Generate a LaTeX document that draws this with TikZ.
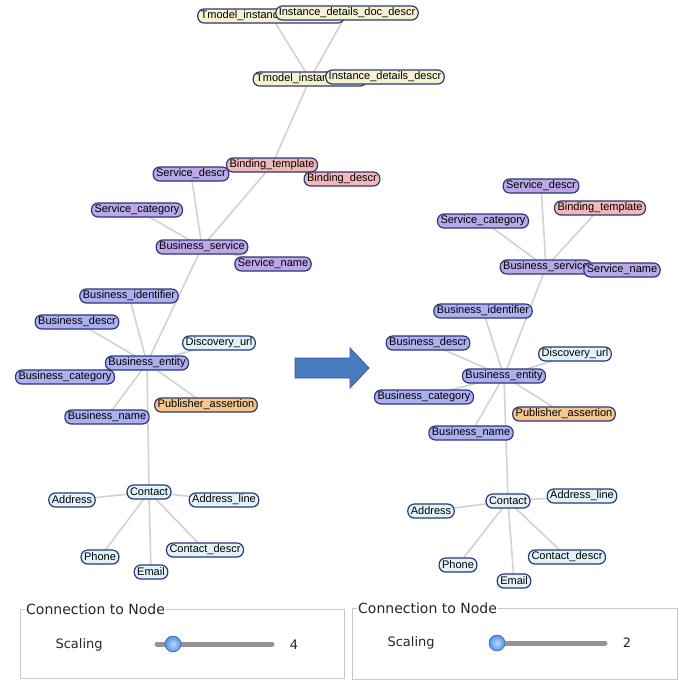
\documentclass[tikz,border=0pt]{standalone}
\usepackage{fontspec}
\setmainfont{Liberation Sans}
\newfontfamily\uifont{DejaVu Sans}
\usepackage{tikz}
\usetikzlibrary{positioning, backgrounds, shapes, calc}
\definecolor{rimblue}{RGB}{45,55,115}
\definecolor{busfill}{RGB}{172,176,240}
\definecolor{servfill}{RGB}{186,168,232}
\definecolor{bindfill}{RGB}{242,184,184}
\definecolor{tmodfill}{RGB}{246,241,208}
\definecolor{contfill}{RGB}{224,243,248}
\definecolor{pubfill}{RGB}{247,198,142}
\definecolor{linkgray}{RGB}{210,210,210}
\definecolor{panelgray}{RGB}{200,200,200}
\definecolor{arrowfill}{RGB}{72,122,192}
\definecolor{arrowrim}{RGB}{52,92,152}
\definecolor{knobblue}{RGB}{80,145,230}
\tikzset{%
  ent/.style      = {draw = rimblue, line width = 1.2pt, rounded corners = 6.5pt,
    inner xsep = 3pt, inner ysep = 1pt, minimum height = 14pt,
    font = \fontsize{11}{11}\selectfont},
  bus/.style      = {ent, fill = busfill}, % Business
  serv/.style     = {ent, fill = servfill}, % Service
  bind/.style     = {ent, fill = bindfill}, % Binding
  tmod/.style     = {ent, fill = tmodfill}, % Tmodel
  cont/.style     = {ent, fill = contfill}, % Contact
  pub/.style      = {ent, fill = pubfill}, % Publisher
  link/.style     = {draw = linkgray, line width = 1.6pt},
  panel/.style    = {draw = panelgray, line width = 0.8pt},
  uitext/.style   = {font = \uifont\fontsize{13}{13}\selectfont, text = black!85},
  track/.style    = {line width = 5pt, line cap = round, draw = black!42},
  knob/.style     = {inner color = knobblue!35!white, outer color = knobblue,
    draw = knobblue!75!black, line width = 0.6pt}
}

\begin{document}
\begin{tikzpicture}[x = 1pt, y = -1pt]
\useasboundingbox (0,0) rectangle (682,681);
%left graph nodes
\draw
	(271,16) node [tmod] (ltid) {Tmodel\_instance\_info\_descr}
	(347,13) node [tmod] (lidd) {Instance\_details\_doc\_descr}
	(310,79) node [tmod] (lti) {Tmodel\_instance\_info}
	(385,77) node [tmod] (lid) {Instance\_details\_descr}
	(191,174) node [serv] (lsd) {Service\_descr}
	(272,165) node [bind] (lbt) {Binding\_template}
	(342,179) node [bind] (lbd) {Binding\_descr}
	(137,210) node [serv] (lsc) {Service\_category}
	(202,247) node [serv] (lbs) {Business\_service}
	(273,264) node [serv] (lsn) {Service\_name}
	(129,296) node [bus] (lbi) {Business\_identifier}
	(77,322) node [bus] (lbdc) {Business\_descr}
	(219,343) node [cont] (ldu) {Discovery\_url}
	(147,363) node [bus] (lbe) {Business\_entity}
	(65,377) node [bus] (lbc) {Business\_category}
	(206,405) node [pub] (lpa) {Publisher\_assertion}
	(107,417) node [bus] (lbn) {Business\_name}
	(149,492) node [cont] (lco) {Contact}
	(72,500) node [cont] (lad) {Address}
	(224,500) node [cont] (lal) {Address\_line}
	(100,557) node [cont] (lph) {Phone}
	(205,550) node [cont] (lcd) {Contact\_descr}
	(151,572) node [cont] (lem) {Email};
%right graph nodes
\draw
	(541,186) node [serv] (rsd) {Service\_descr}
	(600,208) node [bind] (rbt) {Binding\_template}
	(483,221) node [serv] (rsc) {Service\_category}
	(546,267) node [serv] (rbs) {Business\_service}
	(622,270) node [serv] (rsn) {Service\_name}
	(483,311) node [bus] (rbi) {Business\_identifier}
	(428,343) node [bus] (rbdc) {Business\_descr}
	(575,354) node [cont] (rdu) {Discovery\_url}
	(504,376) node [bus] (rbe) {Business\_entity}
	(424,397) node [bus] (rbc) {Business\_category}
	(564,414) node [pub] (rpa) {Publisher\_assertion}
	(471,433) node [bus] (rbn) {Business\_name}
	(508,501) node [cont] (rco) {Contact}
	(431,511) node [cont] (rad) {Address}
	(582,496) node [cont] (ral) {Address\_line}
	(458,565) node [cont] (rph) {Phone}
	(567,557) node [cont] (rcd) {Contact\_descr}
	(514,581) node [cont] (rem) {Email};
%left graph links
\begin{scope}[on background layer]
\draw[link] (ltid.center) -- (lti.center);
\draw[link] (lidd.center) -- (lti.center);
\draw[link] (lid.center) -- (lti.center);
\draw[link] (lti.center) -- (lbt.center);
\draw[link] (lbt.center) -- (lbd.center);
\draw[link] (lbt.center) -- (lbs.center);
\draw[link] (lsd.center) -- (lbs.center);
\draw[link] (lsc.center) -- (lbs.center);
\draw[link] (lsn.center) -- (lbs.center);
\draw[link] (lbs.center) -- (lbe.center);
\draw[link] (lbi.center) -- (lbe.center);
\draw[link] (lbdc.center) -- (lbe.center);
\draw[link] (ldu.center) -- (lbe.center);
\draw[link] (lbc.center) -- (lbe.center);
\draw[link] (lpa.center) -- (lbe.center);
\draw[link] (lbn.center) -- (lbe.center);
\draw[link] (lbe.center) -- (lco.center);
\draw[link] (lad.center) -- (lco.center);
\draw[link] (lal.center) -- (lco.center);
\draw[link] (lph.center) -- (lco.center);
\draw[link] (lcd.center) -- (lco.center);
\draw[link] (lem.center) -- (lco.center);
%right graph links
\draw[link] (rbt.center) -- (rbs.center);
\draw[link] (rsd.center) -- (rbs.center);
\draw[link] (rsc.center) -- (rbs.center);
\draw[link] (rsn.center) -- (rbs.center);
\draw[link] (rbs.center) -- (rbe.center);
\draw[link] (rbi.center) -- (rbe.center);
\draw[link] (rbdc.center) -- (rbe.center);
\draw[link] (rdu.center) -- (rbe.center);
\draw[link] (rbc.center) -- (rbe.center);
\draw[link] (rpa.center) -- (rbe.center);
\draw[link] (rbn.center) -- (rbe.center);
\draw[link] (rbe.center) -- (rco.center);
\draw[link] (rad.center) -- (rco.center);
\draw[link] (ral.center) -- (rco.center);
\draw[link] (rph.center) -- (rco.center);
\draw[link] (rcd.center) -- (rco.center);
\draw[link] (rem.center) -- (rco.center);
\end{scope}
%block arrow
\draw[fill = arrowfill, draw = arrowrim, line width = 0.8pt]
	(295,358) -- (350,358) -- (350,348) -- (369,368) -- (350,388) -- (350,378) -- (295,378) -- cycle;
%slider panels
\draw[panel] (20,609) rectangle (344,678);
\draw[panel] (352,608) rectangle (677,679);
\node[uitext, fill = white, anchor = west, inner xsep = 1pt, font = \uifont\fontsize{14}{14}\selectfont] (ltitle) at (25,609) {Connection to Node};
\node[uitext, fill = white, anchor = west, inner xsep = 1pt, font = \uifont\fontsize{14}{14}\selectfont] (rtitle) at (357,608) {Connection to Node};
\node[uitext, anchor = west] (lscale) at (52,645) {Scaling};
\node[uitext, anchor = west] (rscale) at (384,643) {Scaling};
\draw[track] (157,644) -- (272,644);
\draw[track] (492,643) -- (605,643);
\shade[knob] (173,644) circle (8);
\shade[knob] (497,643) circle (8);
\node[uitext] (lval) at (294,645) {4};
\node[uitext] (rval) at (627,643) {2};
\end{tikzpicture}
\end{document}
